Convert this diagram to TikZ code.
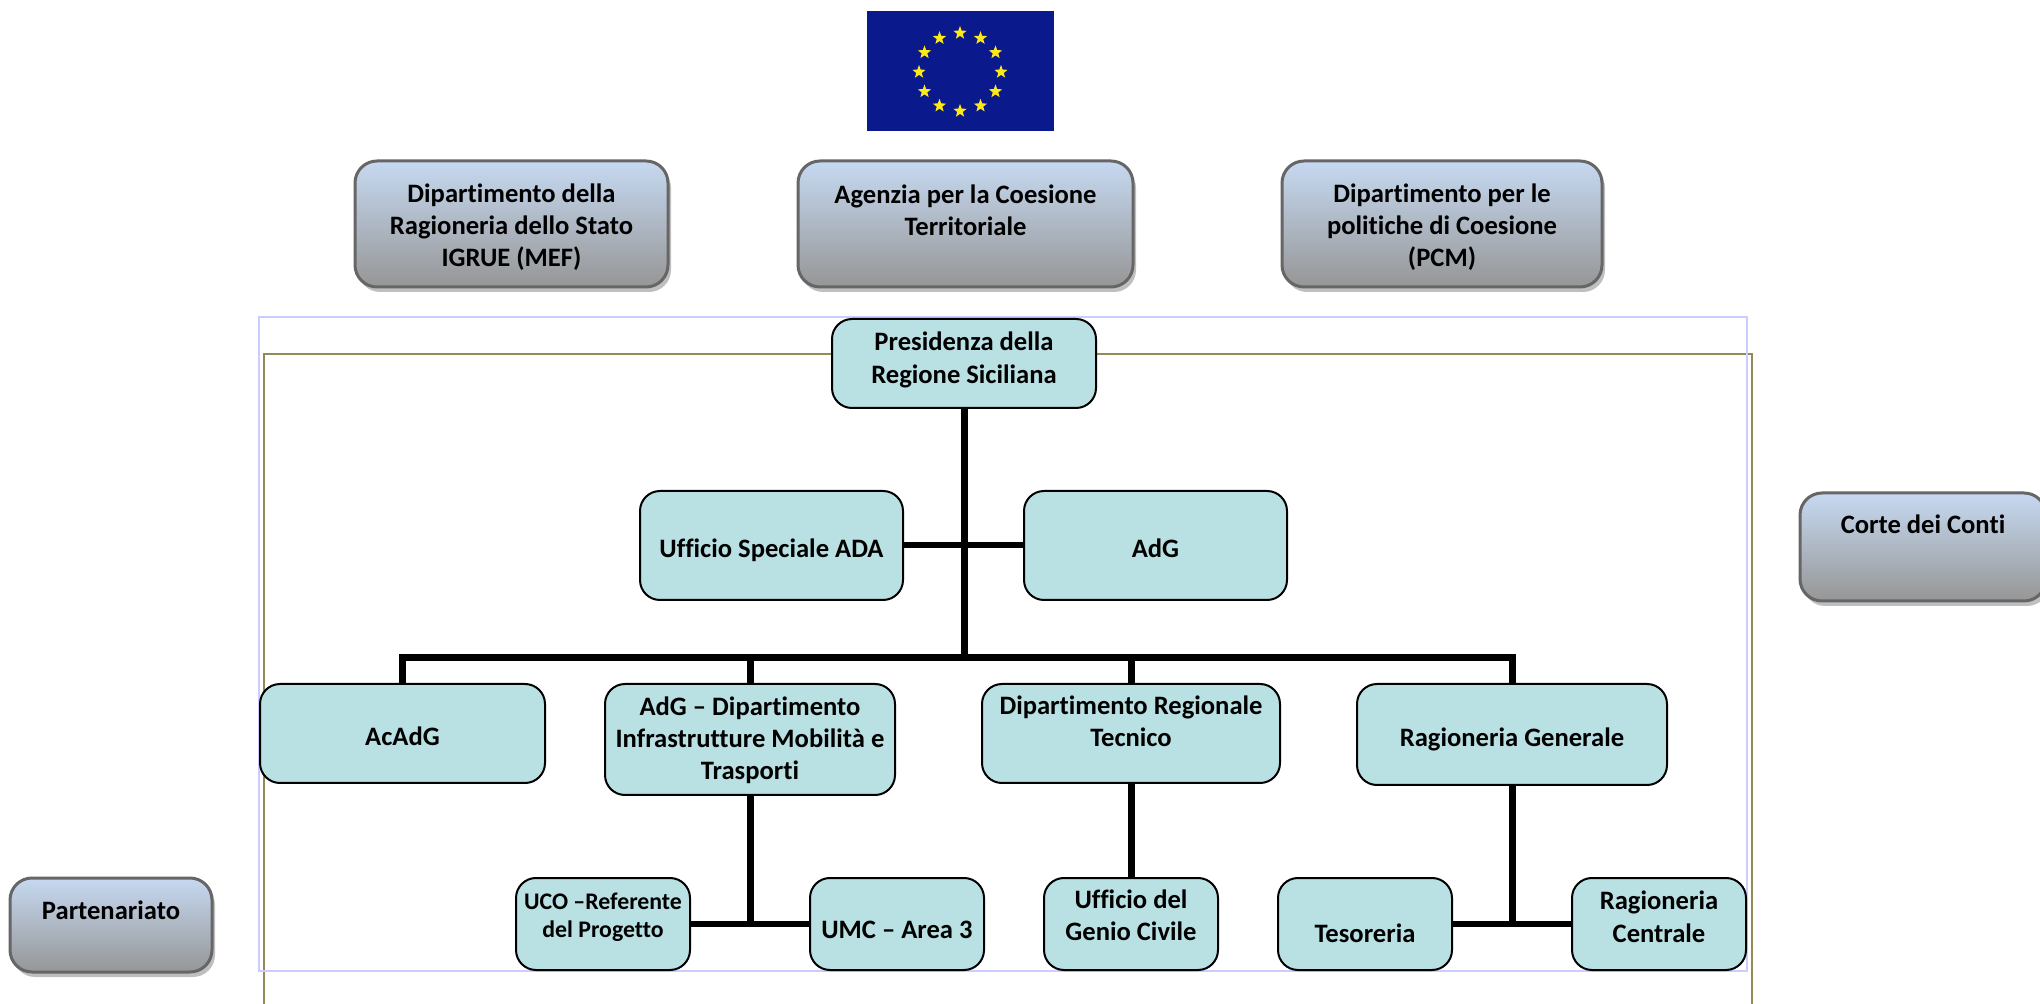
\documentclass[tikz,border=0pt]{standalone}
\usepackage{fontspec}
\setmainfont{Carlito}[Ligatures={NoCommon}]
\usetikzlibrary{shapes.geometric,shadows}
\definecolor{flagblue}{HTML}{0A1A8C}
\definecolor{flagstar}{HTML}{FFE81A}
\definecolor{tealfill}{HTML}{B9E0E3}
\definecolor{gtop}{HTML}{C6D9F1}
\definecolor{gbot}{HTML}{969696}
\definecolor{gedge}{HTML}{666666}
\definecolor{frameA}{HTML}{CCCCFF}
\definecolor{frameB}{HTML}{948A54}
\newcommand\tb[2]{\raisebox{\dimexpr#1-.25em-1.5pt\relax}[0pt][0pt]{\begin{tabular}{@{}c@{}}#2\end{tabular}}}
\newcommand\bx[8]{%
  \pgfmathsetmacro\bw{(#5-#3)/2}\pgfmathsetmacro\bh{(#6-#4)/2}%
  \pgfmathsetmacro\cx{(#5+#3)/2}\pgfmathsetmacro\cy{(#6+#4)/2}%
  \node[#1,minimum width=\bw pt,minimum height=\bh pt] (#2) at (\cx,\cy) {\tb{#7}{#8}};}
\tikzset{
  base/.style={rounded corners=10pt,inner sep=0pt,font=\bfseries\fontsize{13.3}{16.15}\selectfont,text=black},
  tealbox/.style={base,draw=black,line width=1pt,fill=tealfill},
  smalltext/.style={font=\bfseries\fontsize{11.9}{14}\selectfont},
  graybox/.style={base,rounded corners=11pt,draw=gedge,line width=1.5pt,top color=gtop,bottom color=gbot,
    drop shadow={shadow xshift=1.5pt,shadow yshift=-2.5pt,fill=black!25,opacity=1}},
  conn/.style={line width=3.5pt,draw=black},
  hconn/.style={line width=3pt,draw=black},
  eustar/.style={star,star points=5,star point ratio=2.4,fill=flagstar,draw=none,inner sep=0pt,minimum size=7pt},
}
\begin{document}
\begin{tikzpicture}[x=0.5pt,y=-0.5pt]
\useasboundingbox (0,0) rectangle (2040,1004);
% frames
\coordinate (fb1) at (264,354); \coordinate (fb2) at (1752,1012);
\draw[frameB,line width=0.8pt] (fb1) rectangle (fb2);
\coordinate (fa1) at (259,317); \coordinate (fa2) at (1747,971);
\draw[frameA,line width=1pt] (fa1) rectangle (fa2);
% flag
\node[fill=flagblue,draw=none,inner sep=0pt,minimum width=93.5pt,minimum height=60pt] (flag) at (960.5,71) {};
\foreach \i in {0,...,11}{
  \node[eustar] (star\i) at ({960+41*cos(\i*30)},{72+39*sin(\i*30)}) {};
}
% gray boxes
\bx{graybox}{igrue}{355}{161}{668}{287}{-0.75pt}{Dipartimento della\\Ragioneria dello Stato\\IGRUE (MEF)}
\bx{graybox}{agenzia}{798}{161}{1133}{287}{6.75pt}{Agenzia per la Coesione\\Territoriale}
\bx{graybox}{pcm}{1282}{161}{1602}{287}{-0.75pt}{Dipartimento per le\\politiche di Coesione\\(PCM)}
\bx{graybox}{corte}{1800}{493}{2046}{601}{11pt}{Corte dei Conti}
\bx{graybox}{part}{10}{878}{212}{972}{7pt}{Partenariato}
% teal boxes
\bx{tealbox}{pres}{832}{319}{1096}{408}{2.75pt}{Presidenza della\\Regione Siciliana}
\bx{tealbox}{uff}{640}{491}{903}{600}{-1.5pt}{Ufficio Speciale ADA}
\bx{tealbox}{adg}{1024}{491}{1287}{600}{-1.5pt}{AdG}
\bx{tealbox}{acadg}{260}{684}{545}{783}{-1.75pt}{AcAdG}
\bx{tealbox}{adgdip}{605}{684}{895}{795}{0.5pt}{AdG – Dipartimento\\Infrastrutture Mobilità e\\Trasporti}
\bx{tealbox}{drt}{982}{684}{1280}{783}{6pt}{Dipartimento Regionale\\Tecnico}
\bx{tealbox}{rag}{1357}{684}{1667}{785}{-1.75pt}{Ragioneria Generale}
\bx{tealbox,smalltext}{uco}{516}{878}{690}{970}{4.75pt}{UCO –Referente\\del Progetto}
\bx{tealbox}{umc}{810}{878}{984}{970}{-2.75pt}{UMC – Area 3}
\bx{tealbox}{genio}{1044}{878}{1218}{970}{4.25pt}{Ufficio del\\Genio Civile}
\bx{tealbox}{tes}{1278}{878}{1452}{970}{-4.75pt}{Tesoreria}
\bx{tealbox}{rc}{1572}{878}{1746}{970}{3.5pt}{Ragioneria\\Centrale}
% connectors
\coordinate (bar) at (963.5,658);
\draw[conn] (pres.south) -- (pres.south |- bar);
\draw[hconn] (uff.east) -- (adg.west);
\draw[conn,line join=miter] (acadg.north) |- (bar) -| (rag.north);
\draw[conn] (adgdip.north) -- (adgdip.north |- bar);
\draw[conn] (drt.north) -- (drt.north |- bar);
\draw[conn] (adgdip.south) -- (adgdip.south |- uco.east);
\draw[hconn] (uco.east) -- (umc.west);
\draw[conn] (drt.south) -- (genio.north);
\draw[conn] (rag.south) -- (rag.south |- tes.east);
\draw[hconn] (tes.east) -- (rc.west);
\end{tikzpicture}
\end{document}
